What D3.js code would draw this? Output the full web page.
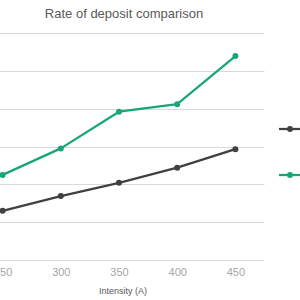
<!DOCTYPE html>
<html>
<head>
<meta charset="utf-8">
<script src="https://cdn.jsdelivr.net/npm/d3@7"></script>
<style>
  body { margin: 0; background: #fff; }
  text { font-family: "Liberation Sans", Arial, sans-serif; }
</style>
</head>
<body>
<div class="chart"></div>
<script>
// chart data
// ==========================================================================
var intensity = [250, 300, 350, 400, 450];
var seriesNames = ["Series A", "Series B"];
var darkValues = [1.30, 1.69, 2.04, 2.44, 2.93];
var greenValues = [2.25, 2.95, 3.92, 4.12, 5.39];
var yTicks = [0, 1, 2, 3, 4, 5, 6];

var svgWidth = 300;
var svgHeight = 300;

var svg = d3.select(".chart")
  .append("svg")
  .attr("width", svgWidth)
  .attr("height", svgHeight);

// x is a category axis, half a step of padding on each side (plot area is cropped on the left)
var xScale = d3.scalePoint()
  .domain(intensity)
  .range([-26.5, 264.5])
  .padding(0.5);

var yScale = d3.scaleLinear()
  .domain([0, 6])
  .range([260, 33]);

// gridlines
svg.append("g")
  .selectAll("line")
  .data(yTicks)
  .enter()
  .append("line")
  .attr("x1", -26.5)
  .attr("x2", 264.5)
  .attr("y1", d => Math.round(yScale(d)) + 0.5)
  .attr("y2", d => Math.round(yScale(d)) + 0.5)
  .attr("stroke", "#d9d9d9")
  .attr("stroke-width", 1);

// x axis tick labels
var bottomAxis = d3.axisBottom(xScale).tickSize(0).tickPadding(0);
var xAxis = svg.append("g")
  .attr("transform", "translate(0, 268)")
  .call(bottomAxis);
xAxis.select(".domain").remove();
xAxis.selectAll("text")
  .attr("fill", "#a6a6a6")
  .style("font-size", "11px")
  .attr("dy", "0.71em");

// axis title
svg.append("text")
  .attr("x", 123)
  .attr("y", 294)
  .attr("text-anchor", "middle")
  .attr("fill", "#595959")
  .style("font-size", "9px")
  .text("Intensity (A)");

// chart title
svg.append("text")
  .attr("x", 124)
  .attr("y", 18)
  .attr("text-anchor", "middle")
  .attr("fill", "#595959")
  .style("font-size", "13px")
  .text("Rate of deposit comparison");

var series = [
  { name: seriesNames[0], values: darkValues, color: "#404040", legendY: 129 },
  { name: seriesNames[1], values: greenValues, color: "#17a677", legendY: 175 }
];

var line = d3.line()
  .x((d, i) => xScale(intensity[i]))
  .y(d => yScale(d));

series.forEach(function(s) {
  svg.append("path")
    .datum(s.values)
    .attr("d", line)
    .attr("fill", "none")
    .attr("stroke", s.color)
    .attr("stroke-width", 2.25)
    .attr("stroke-linejoin", "round");

  svg.append("g")
    .selectAll("circle")
    .data(s.values)
    .enter()
    .append("circle")
    .attr("cx", (d, i) => xScale(intensity[i]))
    .attr("cy", d => yScale(d))
    .attr("r", 3)
    .attr("fill", s.color);

  // legend (labels fall outside the cropped view)
  var lg = svg.append("g").attr("transform", `translate(279, ${s.legendY})`);
  lg.append("line")
    .attr("x1", 0).attr("x2", 22)
    .attr("stroke", s.color)
    .attr("stroke-width", 2.25);
  lg.append("circle")
    .attr("cx", 11)
    .attr("r", 3)
    .attr("fill", s.color);
});
</script>
</body>
</html>
